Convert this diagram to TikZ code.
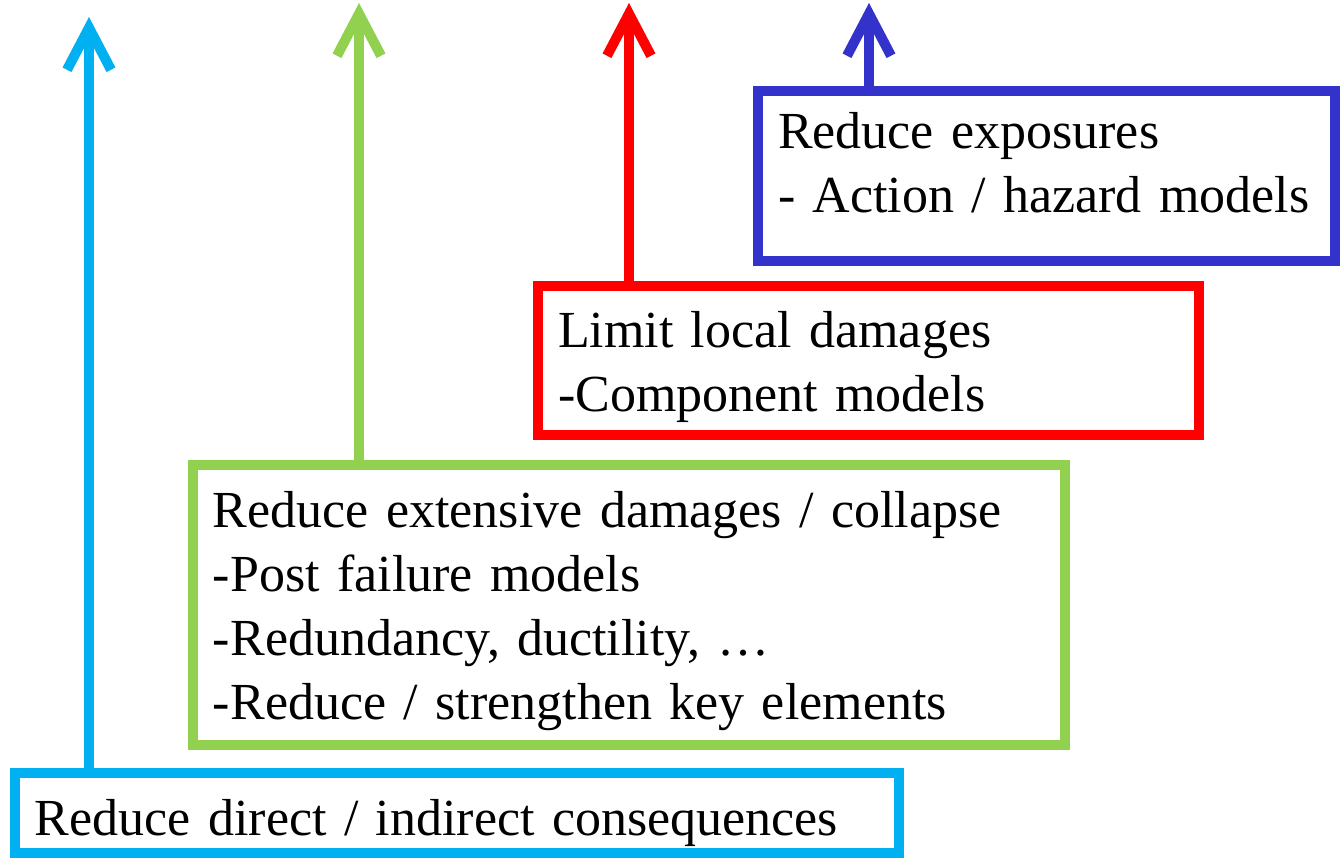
\documentclass[tikz,border=0pt]{standalone}
\usepackage{fontspec}
\setmainfont{Liberation Serif}
\usetikzlibrary{arrows.meta}
\definecolor{cyanbox}{HTML}{00B0F0}
\definecolor{greenbox}{HTML}{92D050}
\definecolor{redbox}{HTML}{FF0000}
\definecolor{bluebox}{HTML}{3333CC}
\begin{document}
\begin{tikzpicture}[line cap=round, line join=round, x=1cm, y=1cm,
    box/.style={draw, line width=0.1cm, line cap=butt, line join=miter, anchor=north west,
      outer sep=0pt, inner xsep=0.2cm, inner ysep=0pt, align=left,
      font=\fontsize{14.8}{18.2}\selectfont, execute at begin node={\hyphenpenalty=10000}},
    up/.style={line width=0.1cm, -{Straight Barb[length=0.42cm, width=0.44cm]}}]
                \useasboundingbox (0, 0) rectangle (13.44, 8.64);
                \node[box, draw=cyanbox, minimum width=8.84cm, text width=8.44cm, text height=0.63cm, text depth=0.17cm]
                    (consq) at (0.15, 0.91) {Reduce direct / indirect consequences};
                \node[box, draw=greenbox, minimum width=8.72cm, text width=8.32cm, text height=0.63cm, text depth=2.17cm]
                    (collapse) at (1.93, 3.99) {Reduce extensive damages / collapse\\-Post failure models\\-Redundancy, ductility, \dots\\-Reduce / strengthen key elements};
                \node[box, draw=redbox, minimum width=6.61cm, text width=6.21cm, text height=0.62cm, text depth=0.87cm]
                    (local) at (5.38, 5.78) {Limit local damages\\-Component models};
                \node[box, draw=bluebox, minimum width=5.77cm, text width=5.37cm, text height=0.58cm, text depth=1.12cm]
                    (expos) at (7.58, 7.73) {Reduce exposures\\- Action / hazard models};
                \coordinate (tipa) at (0.89, 8.47);
                \coordinate (tipb) at (3.59, 8.61);
                \coordinate (tipc) at (6.29, 8.61);
                \coordinate (tipd) at (8.69, 8.61);
                \foreach \nd/\tip/\col in {consq/tipa/cyanbox, collapse/tipb/greenbox, local/tipc/redbox, expos/tipd/bluebox}
                    \draw[up, \col] (\tip |- \nd.north) -- (\tip);
            \end{tikzpicture}
\end{document}
